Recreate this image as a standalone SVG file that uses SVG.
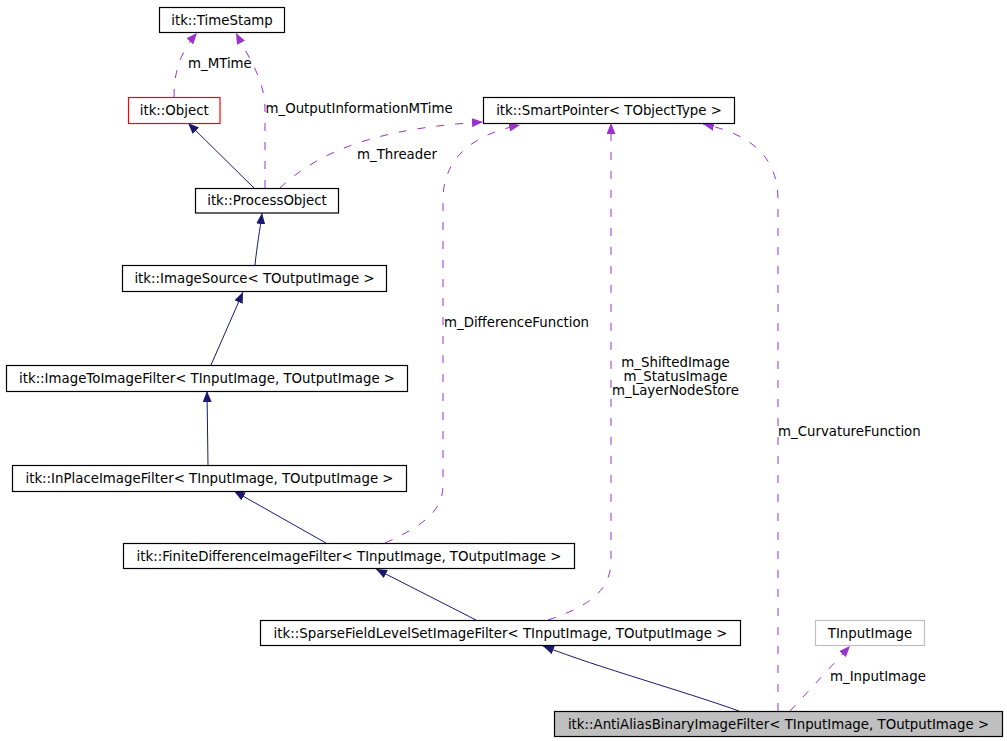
<svg xmlns="http://www.w3.org/2000/svg" width="1007" height="741" viewBox="0 0 1007 741">
<style>
text{font-family:"DejaVu Sans","Liberation Sans",sans-serif;font-size:13.33px;fill:#000}
.node text{text-anchor:middle}
.box{fill:#fff;stroke:#000;stroke-width:1.2}
.inh{fill:none;stroke:#191970;stroke-width:1}
.use{fill:none;stroke:#9a32cd;stroke-width:1;stroke-dasharray:8,11}
</style>
<defs>
<marker id="an" viewBox="0 0 11 9" refX="11" refY="4.5" markerWidth="11" markerHeight="9" markerUnits="userSpaceOnUse" orient="auto">
<path d="M0,0 L11,4.5 L0,9 z" fill="#191970"/>
</marker>
<marker id="ap" viewBox="0 0 11 9" refX="11" refY="4.5" markerWidth="11" markerHeight="9" markerUnits="userSpaceOnUse" orient="auto">
<path d="M0,0 L11,4.5 L0,9 z" fill="#9a32cd"/>
</marker>
</defs>
<rect width="1007" height="741" fill="#fff"/>
<g id="connectors">
<path class="inh" d="M254,188 L188,123" marker-end="url(#an)"/>
<path class="inh" d="M255,265 C257,245 260,230 262,213" marker-end="url(#an)"/>
<path class="inh" d="M211,365 L243,292" marker-end="url(#an)"/>
<path class="inh" d="M208,465 L207,391" marker-end="url(#an)"/>
<path class="inh" d="M326,543 L234,491" marker-end="url(#an)"/>
<path class="inh" d="M476,620 L376,569" marker-end="url(#an)"/>
<path class="inh" d="M739,711 C680,690 600,668 543,646" marker-end="url(#an)"/>
<path class="use" d="M174,97 C174,75 178,55 197,33" marker-end="url(#ap)"/>
<path class="use" d="M265,188 L265,110 C265,80 250,60 236,33" marker-end="url(#ap)"/>
<path class="use" d="M280,188 C320,150 380,128 483,122" marker-end="url(#ap)"/>
<path class="use" d="M385,543 C425,525 443,510 443,485 L443,200 C443,160 470,135 520,125" marker-end="url(#ap)"/>
<path class="use" d="M548,620 C590,606 611,590 611,560 L611,123" marker-end="url(#ap)"/>
<path class="use" d="M778,711 L778,200 C778,160 755,135 703,124" marker-end="url(#ap)"/>
<path class="use" d="M790,711 L850,646" marker-end="url(#ap)"/>
<text x="188" y="68">m_MTime</text>
<text x="265.5" y="113">m_OutputInformationMTime</text>
<text x="357" y="159">m_Threader</text>
<text x="444" y="327">m_DifferenceFunction</text>
<text x="675.5" y="367" text-anchor="middle">m_ShiftedImage</text>
<text x="675.5" y="381" text-anchor="middle">m_StatusImage</text>
<text x="675.5" y="395" text-anchor="middle">m_LayerNodeStore</text>
<text x="778" y="436">m_CurvatureFunction</text>
<text x="830" y="681">m_InputImage</text>
</g>
<g id="n_timestamp" class="node"><rect class="box" x="159.5" y="7.5" width="125" height="25"/><text x="222" y="24.5">itk::TimeStamp</text></g>
<g id="n_object" class="node"><rect class="box" x="128.5" y="97.5" width="91.5" height="26" style="stroke:#f00"/><text x="174.25" y="115">itk::Object</text></g>
<g id="n_processobject" class="node"><rect class="box" x="195.5" y="188.5" width="143" height="24.5"/><text x="267" y="205">itk::ProcessObject</text></g>
<g id="n_smartpointer" class="node"><rect class="box" x="483.5" y="97.5" width="251" height="26"/><text x="609" y="115">itk::SmartPointer&lt; TObjectType &gt;</text></g>
<g id="n_imagesource" class="node"><rect class="box" x="122.5" y="265.5" width="264" height="26"/><text x="254.5" y="283">itk::ImageSource&lt; TOutputImage &gt;</text></g>
<g id="n_imagetoimage" class="node"><rect class="box" x="6.5" y="365.5" width="401" height="26"/><text x="207" y="383">itk::ImageToImageFilter&lt; TInputImage, TOutputImage &gt;</text></g>
<g id="n_inplace" class="node"><rect class="box" x="12.5" y="465.5" width="394" height="26"/><text x="209.5" y="483">itk::InPlaceImageFilter&lt; TInputImage, TOutputImage &gt;</text></g>
<g id="n_finitediff" class="node"><rect class="box" x="123.5" y="543.5" width="451" height="25"/><text x="349" y="560.5">itk::FiniteDifferenceImageFilter&lt; TInputImage, TOutputImage &gt;</text></g>
<g id="n_sparse" class="node"><rect class="box" x="260.5" y="620.5" width="480" height="25"/><text x="500.5" y="637.5">itk::SparseFieldLevelSetImageFilter&lt; TInputImage, TOutputImage &gt;</text></g>
<g id="n_tinputimage" class="node"><rect class="box" x="815.5" y="620.5" width="109" height="25" style="stroke:#bfbfbf"/><text x="870" y="637.5">TInputImage</text></g>
<g id="n_antialias" class="node"><rect class="box" x="554.5" y="711.5" width="448" height="25" style="fill:#bfbfbf"/><text x="778.5" y="728.5">itk::AntiAliasBinaryImageFilter&lt; TInputImage, TOutputImage &gt;</text></g>
</svg>
